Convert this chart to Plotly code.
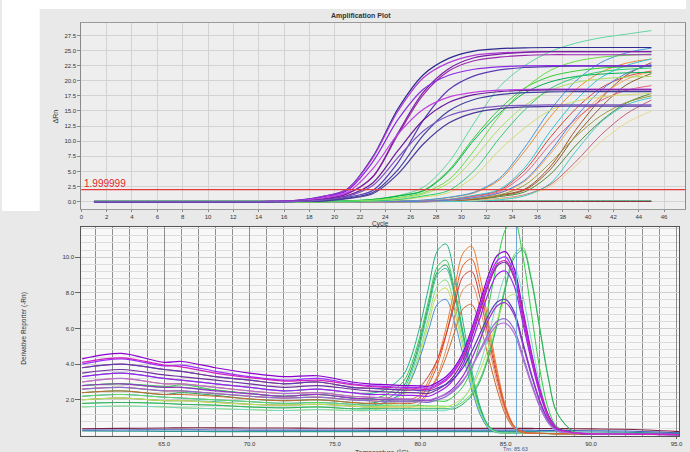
import plotly.graph_objects as go

# ---------------- Amplification plot (top) ----------------
cycles = [1, 3, 5, 7, 9, 11, 13, 15, 17, 19, 21, 23, 25, 27, 29, 31, 33, 35, 37, 39, 41, 43, 45]
threshold = 1.999999
amp_ticks = list(range(0, 47, 2))

amp_purple = [
    [0, 0, 0, 0, 0, 0, 0, 0.05, 0.2, 0.84, 2.1, 7.4, 15.4, 21.0, 23.7, 24.9, 25.3, 25.45, 25.5, 25.5, 25.5, 25.5, 25.5],
    [0, 0, 0, 0, 0, 0, 0, 0.05, 0.2, 0.82, 2.06, 7.24, 15.0, 20.5, 23.0, 24.2, 24.6, 24.75, 24.8, 24.8, 24.8, 24.8, 24.8],
    [0, 0, 0, 0, 0, 0, 0, 0.02, 0.1, 0.41, 1.31, 4.06, 11.1, 17.7, 21.6, 23.3, 23.9, 24.2, 24.3, 24.3, 24.3, 24.3, 24.3],
    [0, 0, 0, 0, 0, 0, 0, 0.02, 0.1, 0.42, 1.34, 4.14, 11.4, 18.1, 22.0, 23.8, 24.4, 24.7, 24.8, 24.8, 24.8, 24.8, 24.8],
    [0, 0, 0, 0, 0, 0, 0, 0.05, 0.18, 0.74, 1.87, 6.57, 13.6, 18.6, 20.9, 21.9, 22.3, 22.45, 22.5, 22.5, 22.5, 22.5, 22.5],
    [0, 0, 0, 0, 0, 0, 0, 0, 0.04, 0.18, 0.74, 1.86, 6.5, 13.5, 18.5, 20.8, 21.8, 22.2, 22.35, 22.4, 22.4, 22.4, 22.4],
    [0, 0, 0, 0, 0, 0, 0, 0.04, 0.15, 0.61, 1.54, 5.43, 11.2, 15.3, 17.3, 18.1, 18.45, 18.56, 18.6, 18.6, 18.6, 18.6, 18.6],
    [0, 0, 0, 0, 0, 0, 0, 0.02, 0.07, 0.31, 1.0, 3.09, 8.47, 13.5, 16.4, 17.7, 18.2, 18.4, 18.5, 18.5, 18.5, 18.5, 18.5],
    [0, 0, 0, 0, 0, 0, 0, 0, 0.04, 0.15, 0.6, 1.51, 5.31, 11.0, 15.0, 16.9, 17.7, 18.05, 18.15, 18.2, 18.2, 18.2, 18.2],
    [0, 0, 0, 0, 0, 0, 0, 0, 0.03, 0.13, 0.52, 1.31, 4.61, 9.54, 13.0, 14.7, 15.4, 15.67, 15.77, 15.8, 15.8, 15.8, 15.8],
    [0, 0, 0, 0, 0, 0, 0, 0.02, 0.06, 0.27, 0.86, 2.67, 7.33, 11.7, 14.2, 15.3, 15.8, 15.94, 16.0, 16.0, 16.0, 16.0, 16.0],
]
amp_purple_colors = ['#2e2a8f', '#b23ad6', '#9c27b0', '#7b1fa2', '#8a2be2', '#5b3ab5',
                     '#c040e0', '#6a1b9a', '#3f3fa0', '#4b3a9a', '#7e57c2']

amp_green = [
    [0, 0, 0, 0, 0, 0, 0, 0, 0, 0.05, 0.15, 0.4, 1.0, 2.4, 6.5, 13.0, 19.0, 22.5, 24.8, 26.2, 27.1, 27.7, 28.3],
    [0, 0, 0, 0, 0, 0, 0, 0, 0, 0, 0.11, 0.36, 0.97, 1.87, 5.2, 10.6, 15.3, 18.8, 20.7, 21.6, 22.1, 22.3, 22.4],
    [0, 0, 0, 0, 0, 0, 0, 0, 0, 0, 0.11, 0.34, 0.92, 1.78, 4.95, 10.2, 14.6, 18.0, 19.8, 20.7, 21.1, 21.3, 21.4],
    [0, 0, 0, 0, 0, 0, 0, 0, 0, 0, 0.07, 0.25, 0.69, 1.47, 3.63, 8.45, 14.2, 18.7, 21.7, 23.2, 23.9, 24.2, 24.4],
    [0, 0, 0, 0, 0, 0, 0, 0, 0, 0, 0.06, 0.21, 0.58, 1.25, 3.08, 7.18, 12.1, 15.9, 18.4, 19.7, 20.3, 20.6, 20.7],
    [0, 0, 0, 0, 0, 0, 0, 0, 0, 0, 0, 0.09, 0.29, 0.77, 1.5, 4.14, 8.51, 12.2, 15.1, 16.6, 17.3, 17.7, 17.9],
    [0, 0, 0, 0, 0, 0, 0, 0, 0, 0, 0, 0.11, 0.36, 0.96, 1.85, 5.13, 10.5, 15.2, 18.7, 20.5, 21.5, 21.9, 22.1],
]
amp_green_colors = ['#5fd6a0', '#33cc33', '#00b050', '#66dd44', '#a8e060', '#d0dc70', '#2ecc71']

amp_orange = [
    [0, 0, 0, 0, 0, 0, 0, 0, 0, 0, 0, 0, 0.07, 0.24, 0.68, 1.45, 3.58, 8.35, 14.0, 18.5, 21.4, 22.9, 23.6],
    [0, 0, 0, 0, 0, 0, 0, 0, 0, 0, 0, 0, 0, 0.11, 0.36, 0.97, 1.87, 5.18, 10.6, 15.3, 18.8, 20.7, 21.6],
    [0, 0, 0, 0, 0, 0, 0, 0, 0, 0, 0, 0, 0.08, 0.26, 0.73, 1.56, 3.85, 8.97, 15.1, 19.9, 23.0, 24.6, 25.4],
    [0, 0, 0, 0, 0, 0, 0, 0, 0, 0, 0, 0, 0, 0.12, 0.39, 1.05, 2.03, 5.64, 11.6, 16.7, 20.5, 22.5, 23.6],
    [0, 0, 0, 0, 0, 0, 0, 0, 0, 0, 0, 0, 0, 0.07, 0.23, 0.64, 1.37, 3.37, 7.87, 13.2, 17.4, 20.2, 21.5],
    [0, 0, 0, 0, 0, 0, 0, 0, 0, 0, 0, 0, 0, 0.1, 0.32, 0.86, 1.66, 4.6, 9.46, 13.6, 16.7, 18.4, 19.2],
    [0, 0, 0, 0, 0, 0, 0, 0, 0, 0, 0, 0, 0, 0.07, 0.24, 0.67, 1.44, 3.55, 8.28, 13.9, 18.4, 21.2, 22.7],
]
amp_orange_colors = ['#ee8a30', '#d9443a', '#3d9be0', '#33c4d6', '#f2a65a', '#e0607e', '#4f7fe0']

amp_late = [
    [0, 0, 0, 0, 0, 0, 0, 0, 0, 0, 0, 0, 0, 0, 0.12, 0.37, 0.99, 1.91, 5.29, 10.9, 15.6, 19.3, 21.2],
    [0, 0, 0, 0, 0, 0, 0, 0, 0, 0, 0, 0, 0, 0, 0.1, 0.31, 0.84, 1.62, 4.49, 9.22, 13.3, 16.3, 17.9],
    [0, 0, 0, 0, 0, 0, 0, 0, 0, 0, 0, 0, 0, 0, 0.06, 0.19, 0.53, 1.14, 2.81, 6.56, 11.0, 14.5, 16.8],
    [0, 0, 0, 0, 0, 0, 0, 0, 0, 0, 0, 0, 0, 0, 0.05, 0.17, 0.48, 1.02, 2.52, 5.87, 9.86, 13.0, 15.0],
    [0, 0, 0, 0, 0, 0, 0, 0, 0, 0, 0, 0, 0, 0, 0.13, 0.4, 1.08, 2.08, 5.75, 11.8, 17.0, 20.9, 23.0],
    [0, 0, 0, 0, 0, 0, 0, 0, 0, 0, 0, 0, 0, 0, 0.02, 0.07, 0.31, 0.97, 3.0, 8.24, 13.1, 16.0, 17.2],
    [0, 0, 0, 0, 0, 0, 0, 0, 0, 0, 0, 0, 0, 0.06, 0.19, 0.52, 1.11, 2.74, 6.38, 10.7, 14.2, 16.4, 17.5],
]
amp_late_colors = ['#8b5a2b', '#4a8a3a', '#c8607a', '#e8d890', '#a0522d', '#45c8c8', '#9a9a40']

amp_flat = [
    [0.15, 0.15, 0.15, 0.15, 0.15, 0.15, 0.15, 0.15, 0.15, 0.15, 0.15, 0.15, 0.15, 0.15, 0.15, 0.15, 0.15, 0.15, 0.15, 0.15, 0.15, 0.15, 0.15],
    [0.05, 0.05, 0.05, 0.05, 0.05, 0.05, 0.05, 0.05, 0.05, 0.05, 0.05, 0.05, 0.05, 0.05, 0.05, 0.05, 0.05, 0.05, 0.05, 0.05, 0.05, 0.05, 0.05],
]
amp_flat_colors = ['#3cb371', '#8b1a3a']

# ---------------- Melt curve (bottom) ----------------
temps = [60.2, 62.5, 65, 66, 68, 70, 72, 74, 76, 77, 78, 79, 79.5, 80, 80.5, 81, 81.5,
         82, 82.5, 83, 83.5, 84, 84.5, 85, 85.5, 86, 86.5, 87, 87.5, 88, 89, 90, 92, 95.15]
melt_xticks = [65, 70, 75, 80, 85, 90, 95]
melt_yticks = [2, 4, 6, 8, 10]
tm_value = 85.63

melt_green_left = [
    [3.3, 3.5, 3.2, 3.1, 2.9, 2.7, 2.5, 2.6, 2.4, 2.35, 2.6, 3.38, 4.5, 6.22, 8.37, 10.35, 10.74, 8.99, 6.36, 3.73, 1.64, 0.55, 0.22, 0.15, 0.13, 0.12, 0.12, 0.11, 0.11, 0.1, 0.1, 0.09, 0.07, 0.05],
    [2.8, 2.9, 2.7, 2.85, 2.55, 2.35, 2.2, 2.3, 2.1, 2.05, 2.29, 3.01, 4.05, 5.64, 7.64, 9.47, 9.83, 8.22, 5.82, 3.41, 1.5, 0.5, 0.2, 0.15, 0.13, 0.12, 0.12, 0.11, 0.11, 0.1, 0.1, 0.09, 0.07, 0.05],
    [2.4, 2.5, 2.3, 2.4, 2.25, 2.05, 1.95, 2.0, 1.85, 1.8, 2.04, 2.75, 3.79, 5.38, 7.37, 9.19, 9.56, 8.0, 5.66, 3.32, 1.46, 0.49, 0.2, 0.15, 0.13, 0.12, 0.12, 0.11, 0.11, 0.1, 0.1, 0.09, 0.07, 0.05],
    [2.0, 2.1, 1.95, 1.95, 1.9, 1.75, 1.7, 1.75, 1.65, 1.6, 1.84, 2.56, 3.59, 5.18, 7.17, 9.0, 9.37, 7.84, 5.54, 3.25, 1.43, 0.48, 0.19, 0.15, 0.13, 0.12, 0.12, 0.11, 0.11, 0.1, 0.1, 0.09, 0.07, 0.05],
    [1.6, 1.65, 1.6, 1.55, 1.5, 1.45, 1.4, 1.45, 1.4, 1.4, 1.61, 2.24, 3.16, 4.57, 6.33, 7.95, 8.27, 6.92, 4.9, 2.87, 1.27, 0.42, 0.17, 0.15, 0.13, 0.12, 0.12, 0.11, 0.11, 0.1, 0.1, 0.09, 0.07, 0.05],
    [2.2, 2.3, 2.15, 2.1, 2.0, 1.9, 1.8, 1.85, 1.75, 1.7, 1.88, 2.43, 3.22, 4.44, 5.96, 7.36, 7.63, 6.39, 4.52, 2.65, 1.17, 0.39, 0.16, 0.15, 0.13, 0.12, 0.12, 0.11, 0.11, 0.1, 0.1, 0.09, 0.07, 0.05],
    [1.8, 1.85, 1.8, 1.75, 1.7, 1.6, 1.55, 1.6, 1.5, 1.5, 1.72, 2.39, 3.35, 4.83, 6.68, 8.38, 8.72, 7.3, 5.16, 3.03, 1.34, 0.45, 0.18, 0.15, 0.13, 0.12, 0.12, 0.11, 0.11, 0.1, 0.1, 0.09, 0.07, 0.05],
]
melt_green_left_colors = ['#22b08a', '#3cc850', '#1fa050', '#3cc0a0', '#c8dc50', '#4a90d8', '#80e080']

melt_orange = [
    [3.0, 3.2, 2.9, 2.9, 2.7, 2.5, 2.35, 2.4, 2.2, 2.15, 2.1, 2.05, 2.05, 2.31, 3.1, 4.25, 6.0, 8.2, 10.22, 10.61, 8.88, 6.28, 3.68, 1.62, 0.54, 0.22, 0.13, 0.12, 0.11, 0.1, 0.1, 0.09, 0.07, 0.05],
    [2.6, 2.7, 2.5, 2.5, 2.35, 2.2, 2.1, 2.15, 2.0, 1.95, 1.9, 1.9, 1.9, 2.15, 2.88, 3.95, 5.59, 7.64, 9.53, 9.9, 8.28, 5.86, 3.43, 1.52, 0.51, 0.2, 0.13, 0.12, 0.11, 0.1, 0.1, 0.09, 0.07, 0.05],
    [3.8, 4.0, 3.7, 3.6, 3.3, 3.1, 2.9, 3.0, 2.7, 2.65, 2.6, 2.55, 2.55, 2.76, 3.37, 4.26, 5.63, 7.35, 8.92, 9.21, 7.71, 5.45, 3.2, 1.41, 0.47, 0.19, 0.13, 0.12, 0.11, 0.1, 0.1, 0.09, 0.07, 0.05],
    [2.0, 2.1, 1.95, 1.95, 1.85, 1.75, 1.7, 1.75, 1.65, 1.6, 1.6, 1.6, 1.6, 1.81, 2.45, 3.37, 4.78, 6.54, 8.17, 8.49, 7.1, 5.02, 2.94, 1.3, 0.43, 0.17, 0.13, 0.12, 0.11, 0.1, 0.1, 0.09, 0.07, 0.05],
    [2.4, 2.5, 2.3, 2.3, 2.2, 2.05, 1.95, 2.0, 1.85, 1.8, 1.8, 1.8, 1.8, 1.97, 2.48, 3.23, 4.37, 5.79, 7.1, 7.35, 6.15, 4.35, 2.55, 1.13, 0.38, 0.15, 0.13, 0.12, 0.11, 0.1, 0.1, 0.09, 0.07, 0.05],
]
melt_orange_colors = ['#ee7a2a', '#e05a28', '#d03a3a', '#e89060', '#c86a30']

melt_purple = [
    [4.3, 4.6, 4.1, 4.15, 3.8, 3.5, 3.3, 3.35, 3.0, 2.9, 2.85, 2.8, 2.8, 2.78, 2.76, 2.98, 3.29, 3.82, 4.66, 5.96, 7.49, 9.02, 10.09, 10.3, 9.36, 7.07, 4.68, 2.6, 1.14, 0.42, 0.15, 0.1, 0.08, 0.05],
    [4.0, 4.3, 3.9, 3.95, 3.6, 3.3, 3.1, 3.2, 2.9, 2.8, 2.75, 2.7, 2.7, 2.68, 2.66, 2.87, 3.17, 3.69, 4.51, 5.78, 7.27, 8.76, 9.8, 10.0, 9.09, 6.87, 4.55, 2.53, 1.11, 0.4, 0.15, 0.1, 0.08, 0.05],
    [3.5, 3.7, 3.4, 3.3, 3.1, 2.9, 2.7, 2.8, 2.6, 2.5, 2.45, 2.4, 2.4, 2.38, 2.36, 2.57, 2.87, 3.39, 4.21, 5.48, 6.97, 8.46, 9.5, 9.7, 8.82, 6.66, 4.41, 2.45, 1.08, 0.39, 0.15, 0.1, 0.08, 0.05],
    [3.3, 3.5, 3.2, 3.1, 2.9, 2.7, 2.5, 2.6, 2.4, 2.3, 2.3, 2.25, 2.25, 2.22, 2.2, 2.41, 2.7, 3.19, 3.98, 5.18, 6.6, 8.02, 9.02, 9.21, 8.37, 6.32, 4.19, 2.33, 1.02, 0.37, 0.15, 0.1, 0.08, 0.05],
    [3.8, 4.0, 3.7, 3.6, 3.3, 3.1, 2.9, 3.0, 2.7, 2.65, 2.6, 2.55, 2.55, 2.52, 2.5, 2.66, 2.86, 3.23, 3.8, 4.68, 5.72, 6.76, 7.49, 7.62, 6.93, 5.24, 3.47, 1.93, 0.85, 0.31, 0.15, 0.1, 0.08, 0.05],
    [2.8, 2.9, 2.7, 2.7, 2.5, 2.35, 2.2, 2.3, 2.1, 2.05, 2.0, 2.0, 2.0, 1.98, 1.96, 2.12, 2.34, 2.73, 3.34, 4.28, 5.39, 6.5, 7.28, 7.43, 6.75, 5.1, 3.38, 1.88, 0.83, 0.3, 0.15, 0.1, 0.08, 0.05],
    [2.6, 2.7, 2.5, 2.5, 2.35, 2.2, 2.1, 2.15, 2.0, 1.95, 1.9, 1.9, 1.9, 1.88, 1.86, 2.0, 2.18, 2.52, 3.04, 3.85, 4.8, 5.75, 6.41, 6.53, 5.94, 4.49, 2.97, 1.65, 0.73, 0.26, 0.15, 0.1, 0.08, 0.05],
    [3.0, 3.2, 2.9, 2.9, 2.7, 2.5, 2.35, 2.4, 2.2, 2.15, 2.1, 2.05, 2.05, 2.02, 2.0, 2.13, 2.3, 2.61, 3.09, 3.83, 4.7, 5.57, 6.18, 6.29, 5.72, 4.32, 2.86, 1.59, 0.7, 0.25, 0.15, 0.1, 0.08, 0.05],
    [4.1, 4.35, 3.95, 3.85, 3.5, 3.25, 3.05, 3.1, 2.85, 2.75, 2.7, 2.65, 2.62, 2.6, 2.58, 2.79, 3.08, 3.6, 4.4, 5.65, 7.12, 8.58, 9.61, 9.8, 8.91, 6.73, 4.46, 2.48, 1.09, 0.4, 0.15, 0.1, 0.08, 0.05],
]
melt_purple_colors = ['#8b00d0', '#9b30ff', '#7030a0', '#a020f0', '#5a3cb8', '#9932cc', '#8a6fcf', '#b070d8', '#d020c0']

melt_green_right = [
    [2.8, 2.9, 2.75, 2.7, 2.55, 2.35, 2.2, 2.3, 2.1, 2.05, 2.0, 2.0, 1.98, 1.96, 1.95, 1.94, 1.93, 2.23, 2.75, 3.68, 5.24, 7.32, 9.71, 11.57, 12.05, 10.09, 6.89, 3.69, 1.48, 0.49, 0.14, 0.1, 0.08, 0.05],
    [2.2, 2.3, 2.15, 2.1, 2.0, 1.9, 1.8, 1.85, 1.75, 1.7, 1.7, 1.7, 1.7, 1.68, 1.66, 1.65, 1.64, 1.63, 1.89, 2.35, 3.18, 4.55, 6.38, 8.48, 10.13, 10.55, 8.83, 6.03, 3.23, 1.29, 0.2, 0.1, 0.08, 0.05],
    [1.8, 1.85, 1.8, 1.75, 1.7, 1.6, 1.55, 1.6, 1.5, 1.5, 1.5, 1.5, 1.5, 1.5, 1.5, 1.5, 1.5, 1.5, 1.77, 2.23, 3.05, 4.41, 6.23, 8.33, 9.96, 10.39, 8.69, 5.94, 3.18, 1.27, 0.2, 0.1, 0.08, 0.05],
    [1.6, 1.65, 1.6, 1.55, 1.5, 1.45, 1.4, 1.45, 1.4, 1.4, 1.4, 1.4, 1.4, 1.4, 1.4, 1.4, 1.4, 1.64, 2.05, 2.79, 4.01, 5.64, 7.52, 8.99, 9.37, 7.84, 5.35, 2.87, 1.15, 0.38, 0.14, 0.1, 0.08, 0.05],
    [2.0, 2.1, 1.95, 1.95, 1.85, 1.75, 1.7, 1.75, 1.65, 1.6, 1.6, 1.6, 1.6, 1.6, 1.6, 1.6, 1.6, 1.79, 2.12, 2.7, 3.67, 4.96, 6.45, 7.62, 7.91, 6.62, 4.52, 2.42, 0.97, 0.32, 0.14, 0.1, 0.08, 0.05],
]
melt_green_right_colors = ['#2ecc40', '#5ddc5d', '#27ae60', '#76d7c4', '#b5e655']

melt_flat = [
    [0.38, 0.4, 0.42, 0.43, 0.43, 0.42, 0.42, 0.41, 0.41, 0.4, 0.4, 0.4, 0.4, 0.4, 0.4, 0.4, 0.4, 0.4, 0.4, 0.4, 0.4, 0.4, 0.4, 0.4, 0.4, 0.4, 0.4, 0.39, 0.39, 0.39, 0.38, 0.37, 0.35, 0.22],
    [0.25, 0.24, 0.23, 0.23, 0.22, 0.22, 0.22, 0.22, 0.22, 0.22, 0.22, 0.22, 0.22, 0.22, 0.22, 0.22, 0.22, 0.22, 0.22, 0.22, 0.22, 0.22, 0.22, 0.22, 0.22, 0.22, 0.22, 0.21, 0.21, 0.21, 0.2, 0.2, 0.18, 0.12],
    [0.3, 0.31, 0.32, 0.32, 0.31, 0.3, 0.3, 0.3, 0.3, 0.3, 0.3, 0.3, 0.3, 0.3, 0.3, 0.3, 0.3, 0.3, 0.3, 0.3, 0.3, 0.3, 0.3, 0.3, 0.3, 0.3, 0.3, 0.29, 0.29, 0.29, 0.28, 0.27, 0.25, 0.15],
]
melt_flat_colors = ['#7a1f3d', '#2a9d8f', '#4060c0']

# ---------------- Figure ----------------
W, H = 690, 452
def px(x):
    return x / W
def py(y):
    return 1 - y / H

FONT = 'Liberation Sans, Arial, sans-serif'
fig = go.Figure()

def add_group(xs, rows, colors, xa, ya, width=1.0):
    for row, col in zip(rows, colors):
        fig.add_trace(go.Scatter(x=xs, y=row, mode='lines', xaxis=xa, yaxis=ya,
                                 line=dict(color=col, width=width, shape='spline', smoothing=0.9),
                                 hoverinfo='skip', showlegend=False))

add_group(cycles, amp_flat, amp_flat_colors, 'x', 'y')
add_group(cycles, amp_late, amp_late_colors, 'x', 'y')
add_group(cycles, amp_orange, amp_orange_colors, 'x', 'y')
add_group(cycles, amp_green, amp_green_colors, 'x', 'y')
add_group(cycles, amp_purple, amp_purple_colors, 'x', 'y', 1.2)

add_group(temps, melt_flat, melt_flat_colors, 'x2', 'y2', 1.1)
add_group(temps, melt_green_left, melt_green_left_colors, 'x2', 'y2')
add_group(temps, melt_orange, melt_orange_colors, 'x2', 'y2')
add_group(temps, melt_green_right, melt_green_right_colors, 'x2', 'y2')
add_group(temps, melt_purple, melt_purple_colors, 'x2', 'y2', 1.2)

tickfont = dict(family=FONT, size=6, color='#333333')

fig.update_layout(
    width=W, height=H,
    margin=dict(l=0, r=0, t=0, b=0),
    paper_bgcolor='#e9e9e9',
    plot_bgcolor='#eeeeee',
    showlegend=False,
    xaxis=dict(domain=[px(80), px(689)], anchor='y', range=[0, 47.65],
               tickmode='array', tickvals=amp_ticks, ticks='outside', ticklen=2,
               tickcolor='#888888', tickfont=tickfont, showgrid=True, gridcolor='#d3d3d3',
               gridwidth=1, zeroline=False, showline=True, linecolor='#9a9a9a', mirror=True),
    yaxis=dict(domain=[py(209), py(22.7)], anchor='x', range=[-1.21, 29.6],
               tick0=0, dtick=2.5, tickformat='.1f', ticks='outside', ticklen=3,
               tickcolor='#888888', tickfont=tickfont, showgrid=True, gridcolor='#d3d3d3',
               zeroline=False, showline=True, linecolor='#8a8a8a', mirror=True),
    xaxis2=dict(domain=[px(80), px(683)], anchor='y2', range=[60.15, 95.15],
                tickmode='array', tickvals=melt_xticks, tickformat='.1f', ticks='outside',
                ticklen=2, tickcolor='#666666', tickfont=tickfont, showgrid=True,
                gridcolor='#8e8e8e', gridwidth=1,
                minor=dict(tick0=60, dtick=1, showgrid=True, gridcolor='#8e8e8e', gridwidth=1),
                zeroline=False, showline=True, linecolor='#555555', mirror=True),
    yaxis2=dict(domain=[py(435.5), py(227)], anchor='x2', range=[0, 11.69],
                tickmode='array', tickvals=melt_yticks, tickformat='.1f', ticks='outside',
                ticklen=5, tickcolor='#666666', tickfont=tickfont, showgrid=True,
                gridcolor='#cfcfcf',
                minor=dict(tick0=0, dtick=0.4, showgrid=True, gridcolor='#dcdcdc', gridwidth=1),
                zeroline=False, showline=True, linecolor='#555555', mirror=True),
)

shapes = [
    dict(type='rect', xref='paper', yref='paper', x0=0, x1=1, y0=py(9), y1=1,
         fillcolor='#ffffff', line=dict(width=0), layer='below'),
    dict(type='rect', xref='paper', yref='paper', x0=0, x1=px(38), y0=py(211), y1=1,
         fillcolor='#ffffff', line=dict(width=0), layer='below'),
    dict(type='rect', xref='x2 domain', yref='y2 domain', x0=0, x1=1, y0=0, y1=1,
         fillcolor='#f8f8f8', line=dict(width=0), layer='below'),
    dict(type='line', xref='x domain', yref='y', x0=0, x1=1, y0=threshold, y1=threshold,
         line=dict(color='#e23a3a', width=1.3), layer='above'),
    dict(type='line', xref='x2', yref='y2 domain', x0=tm_value, x1=tm_value, y0=0, y1=1,
         line=dict(color='#6aa6d8', width=1), layer='above'),
]
fig.update_layout(shapes=shapes)

annotations = [
    dict(text='<b>Amplification Plot</b>', x=px(362), y=py(16), font=dict(family=FONT, size=7, color='#333333')),
    dict(text='ΔRn', x=px(53), y=py(117), textangle=-90, font=dict(family=FONT, size=7, color='#333333')),
    dict(text='Cycle', x=px(382), y=py(223.5), font=dict(family=FONT, size=6.5, color='#333333')),
    dict(text='1.999999', x=px(81), y=py(184), xanchor='left', font=dict(family=FONT, size=10, color='#e02828')),
    dict(text='Derivative Reporter (-Rn)', x=px(22), y=py(328), textangle=-90,
         font=dict(family=FONT, size=6.5, color='#333333')),
    dict(text='Temperature (°C)', x=px(383), y=py(453), font=dict(family=FONT, size=7, color='#333333')),
    dict(text='Tm: 85.63', x=px(518), y=py(448.5), font=dict(family=FONT, size=5.5, color='#3a5a9a')),
]
for a in annotations:
    a.update(xref='paper', yref='paper', showarrow=False)
    a.setdefault('xanchor', 'center')
    a.setdefault('yanchor', 'middle')
fig.update_layout(annotations=annotations)

fig.write_html('out.html', config={'displayModeBar': False},
               post_script="document.body.style.margin='0px';document.body.style.overflow='hidden';")
